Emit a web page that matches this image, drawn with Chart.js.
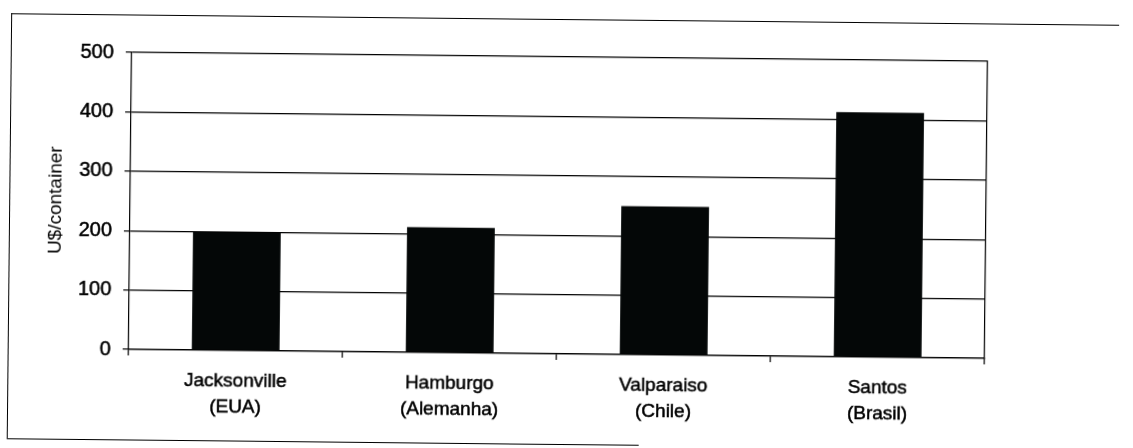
<!DOCTYPE html>
<html>
<head>
<meta charset="utf-8">
<script src="https://cdn.jsdelivr.net/npm/chart.js@4.4.1/dist/chart.umd.min.js"></script>
<style>
    html, body { margin: 0; background: #fff; }
    .sheet { position: relative; width: 1133px; height: 448px; overflow: hidden; background: #fff; }
    /* scanned page sits slightly askew */
    .page { position: absolute; left: 0; top: 0; width: 1133px; height: 448px;
            transform: rotate(0.6deg); transform-origin: 566px 224px; }
    .frame-top { position: absolute; left: 9px; top: 19px; width: 1108px; border-top: 1.5px solid #000; }
    .frame-left { position: absolute; left: 9px; top: 19px; height: 425px; border-left: 1.5px solid #000; }
    .frame-bottom { position: absolute; left: 9px; top: 444px; width: 632px; border-top: 1.5px solid #000; }
    canvas { position: absolute; left: 0; top: 0; }
</style>
</head>
<body>
<div class="sheet">
    <div class="page">
        <div class="frame-top"></div>
        <div class="frame-left"></div>
        <div class="frame-bottom"></div>
        <canvas id="portChart" width="1133" height="448"></canvas>
    </div>
</div>
<script>
// Custo de movimentação por container, por porto
const ports = [
    ['Jacksonville', '(EUA)'],
    ['Hamburgo', '(Alemanha)'],
    ['Valparaiso', '(Chile)'],
    ['Santos', '(Brasil)']
];
const costPerContainer = [199, 211, 250, 412];
const yMin = 0;
const yMax = 500;
const yStep = 100;
const yTitle = 'U$/container';

const INK = '#000';
const FONT = '"Liberation Sans", Arial, sans-serif';

new Chart(document.getElementById('portChart'), {
    type: 'bar',
    data: {
        labels: ports,
        datasets: [{
            data: costPerContainer,
            backgroundColor: '#040707',
            borderWidth: 0,
            barPercentage: 0.41,
            categoryPercentage: 1
        }]
    },
    options: {
        responsive: false,
        animation: false,
        layout: { padding: { left: 0, top: 57, right: 147, bottom: 0 } },
        plugins: { legend: { display: false }, tooltip: { enabled: false } },
        scales: {
            x: {
                afterFit(scale) { scale.height = 94; },
                grid: { offset: true, drawOnChartArea: false, drawTicks: true, tickLength: 6, color: INK, lineWidth: 1.2 },
                border: { display: true, color: INK, width: 1.2 },
                ticks: {
                    color: '#000',
                    textStrokeColor: '#000',
                    textStrokeWidth: 0.5,
                    padding: 12,
                    maxRotation: 0,
                    autoSkip: false,
                    font: { family: FONT, size: 19, lineHeight: '26px' }
                }
            },
            y: {
                min: yMin,
                max: yMax,
                afterFit(scale) { scale.width = 130; },
                grid: { drawTicks: true, tickLength: 6, color: INK, lineWidth: 1.2 },
                border: { display: true, color: INK, width: 1.2 },
                ticks: {
                    stepSize: yStep,
                    color: '#000',
                    textStrokeColor: '#000',
                    textStrokeWidth: 0.5,
                    padding: 12,
                    font: { family: FONT, size: 20 }
                },
                title: {
                    display: true,
                    text: yTitle,
                    color: '#000',
                    padding: { top: 44, bottom: 0 },
                    font: { family: FONT, size: 19 }
                }
            },
            // right edge of the plot frame
            yRight: {
                position: 'right',
                min: yMin,
                max: yMax,
                afterFit(scale) { scale.width = 0; },
                grid: { drawOnChartArea: false, drawTicks: false },
                border: { display: true, color: INK, width: 1.2 },
                ticks: { display: false }
            }
        }
    }
});
</script>
</body>
</html>
